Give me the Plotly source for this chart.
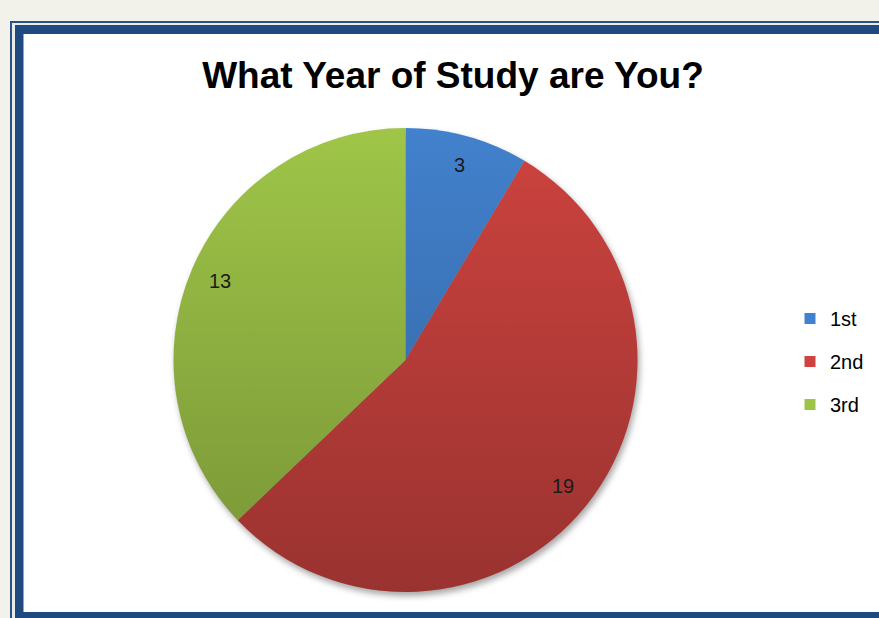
import base64
import math
import plotly.graph_objects as go

# ---- data ----
categories = ["1st", "2nd", "3rd"]
values = [3, 19, 13]
colors = ["#4281cd", "#cd433f", "#9fc548"]
title_text = "What Year of Study are You?"

W, H = 879, 618
CX, CY, R = 405.5, 360.0, 232.0  # pie centre / radius in px (layout)


def px(x):
    return x / W


def py(y):
    return 1 - y / H


# background: page colour, frame and soft pie shadow
bg_svg = f'''<svg xmlns="http://www.w3.org/2000/svg" width="{W}" height="{H}" viewBox="0 0 {W} {H}">
<defs><filter id="b" x="-20%" y="-20%" width="140%" height="140%"><feGaussianBlur stdDeviation="3"/></filter></defs>
<rect x="0" y="0" width="{W}" height="{H}" fill="#f2f1ea"/>
<rect x="10" y="21" width="{W}" height="{H}" fill="#2a5088"/>
<rect x="12" y="23" width="{W}" height="{H}" fill="#e9eaea"/>
<rect x="15" y="25" width="{W}" height="{H}" fill="#1f4a80"/>
<rect x="23.5" y="34" width="{W}" height="578" fill="#ffffff"/>
<circle cx="{CX+2}" cy="{CY+4}" r="{R}" fill="rgba(0,0,0,0.35)" filter="url(#b)"/>
</svg>'''

# overlay: vertical shading of the pie
ov_svg = f'''<svg xmlns="http://www.w3.org/2000/svg" width="{W}" height="{H}" viewBox="0 0 {W} {H}">
<defs><linearGradient id="g" x1="0" y1="0" x2="0" y2="1">
<stop offset="0" stop-color="#000" stop-opacity="0"/>
<stop offset="1" stop-color="#000" stop-opacity="0.25"/></linearGradient></defs>
<circle cx="{CX}" cy="{CY}" r="{R}" fill="url(#g)"/>
</svg>'''


def uri(s):
    return "data:image/svg+xml;base64," + base64.b64encode(s.encode()).decode()


fig = go.Figure()
fig.add_trace(go.Pie(
    labels=categories, values=values, sort=False, direction="clockwise", rotation=0,
    marker=dict(colors=colors, line=dict(width=0)),
    textinfo="none", showlegend=False, hoverinfo="label+value",
    domain=dict(x=[px(CX - R), px(CX + R)], y=[py(CY + R), py(CY - R)]),
))

# legend entries
for i, (c, col) in enumerate(zip(categories, colors)):
    fig.add_trace(go.Scatter(
        x=[None], y=[None], mode="markers", name=c, legendgroup=c,
        marker=dict(symbol="square", size=11, color=col), showlegend=True,
    ))

# data labels at mid-angle, 0.87 R from centre
total = sum(values)
annotations = []
cum = 0
for v in values:
    mid = (cum + v / 2) / total * 2 * math.pi
    cum += v
    lx = CX + 0.87 * R * math.sin(mid)
    ly = CY - 0.87 * R * math.cos(mid)
    annotations.append(dict(
        x=px(lx), y=py(ly), xref="paper", yref="paper", text=str(v), showarrow=False,
        font=dict(family="Liberation Sans, Arial", size=20, color="#1a1a1a"),
        xanchor="center", yanchor="middle",
    ))

fig.update_layout(
    width=W, height=H, margin=dict(l=0, r=0, t=0, b=0),
    paper_bgcolor="#f2f1ea", plot_bgcolor="rgba(0,0,0,0)",
    xaxis=dict(visible=False), yaxis=dict(visible=False),
    title=dict(text=f"<b>{title_text}</b>", x=px(453), y=py(75), xanchor="center", yanchor="middle",
               font=dict(family="Liberation Sans, Arial", size=37, color="#000000")),
    legend=dict(x=px(790), y=py(299), xanchor="left", yanchor="top",
                font=dict(family="Liberation Sans, Arial", size=20, color="#000000"),
                tracegroupgap=14, traceorder="grouped", bgcolor="rgba(0,0,0,0)"),
    annotations=annotations,
    images=[
        dict(source=uri(bg_svg), xref="paper", yref="paper", x=0, y=1, sizex=1, sizey=1,
             xanchor="left", yanchor="top", sizing="stretch", layer="below"),
        dict(source=uri(ov_svg), xref="paper", yref="paper", x=0, y=1, sizex=1, sizey=1,
             xanchor="left", yanchor="top", sizing="stretch", layer="above"),
    ],
)

fig.write_html("out.html")
